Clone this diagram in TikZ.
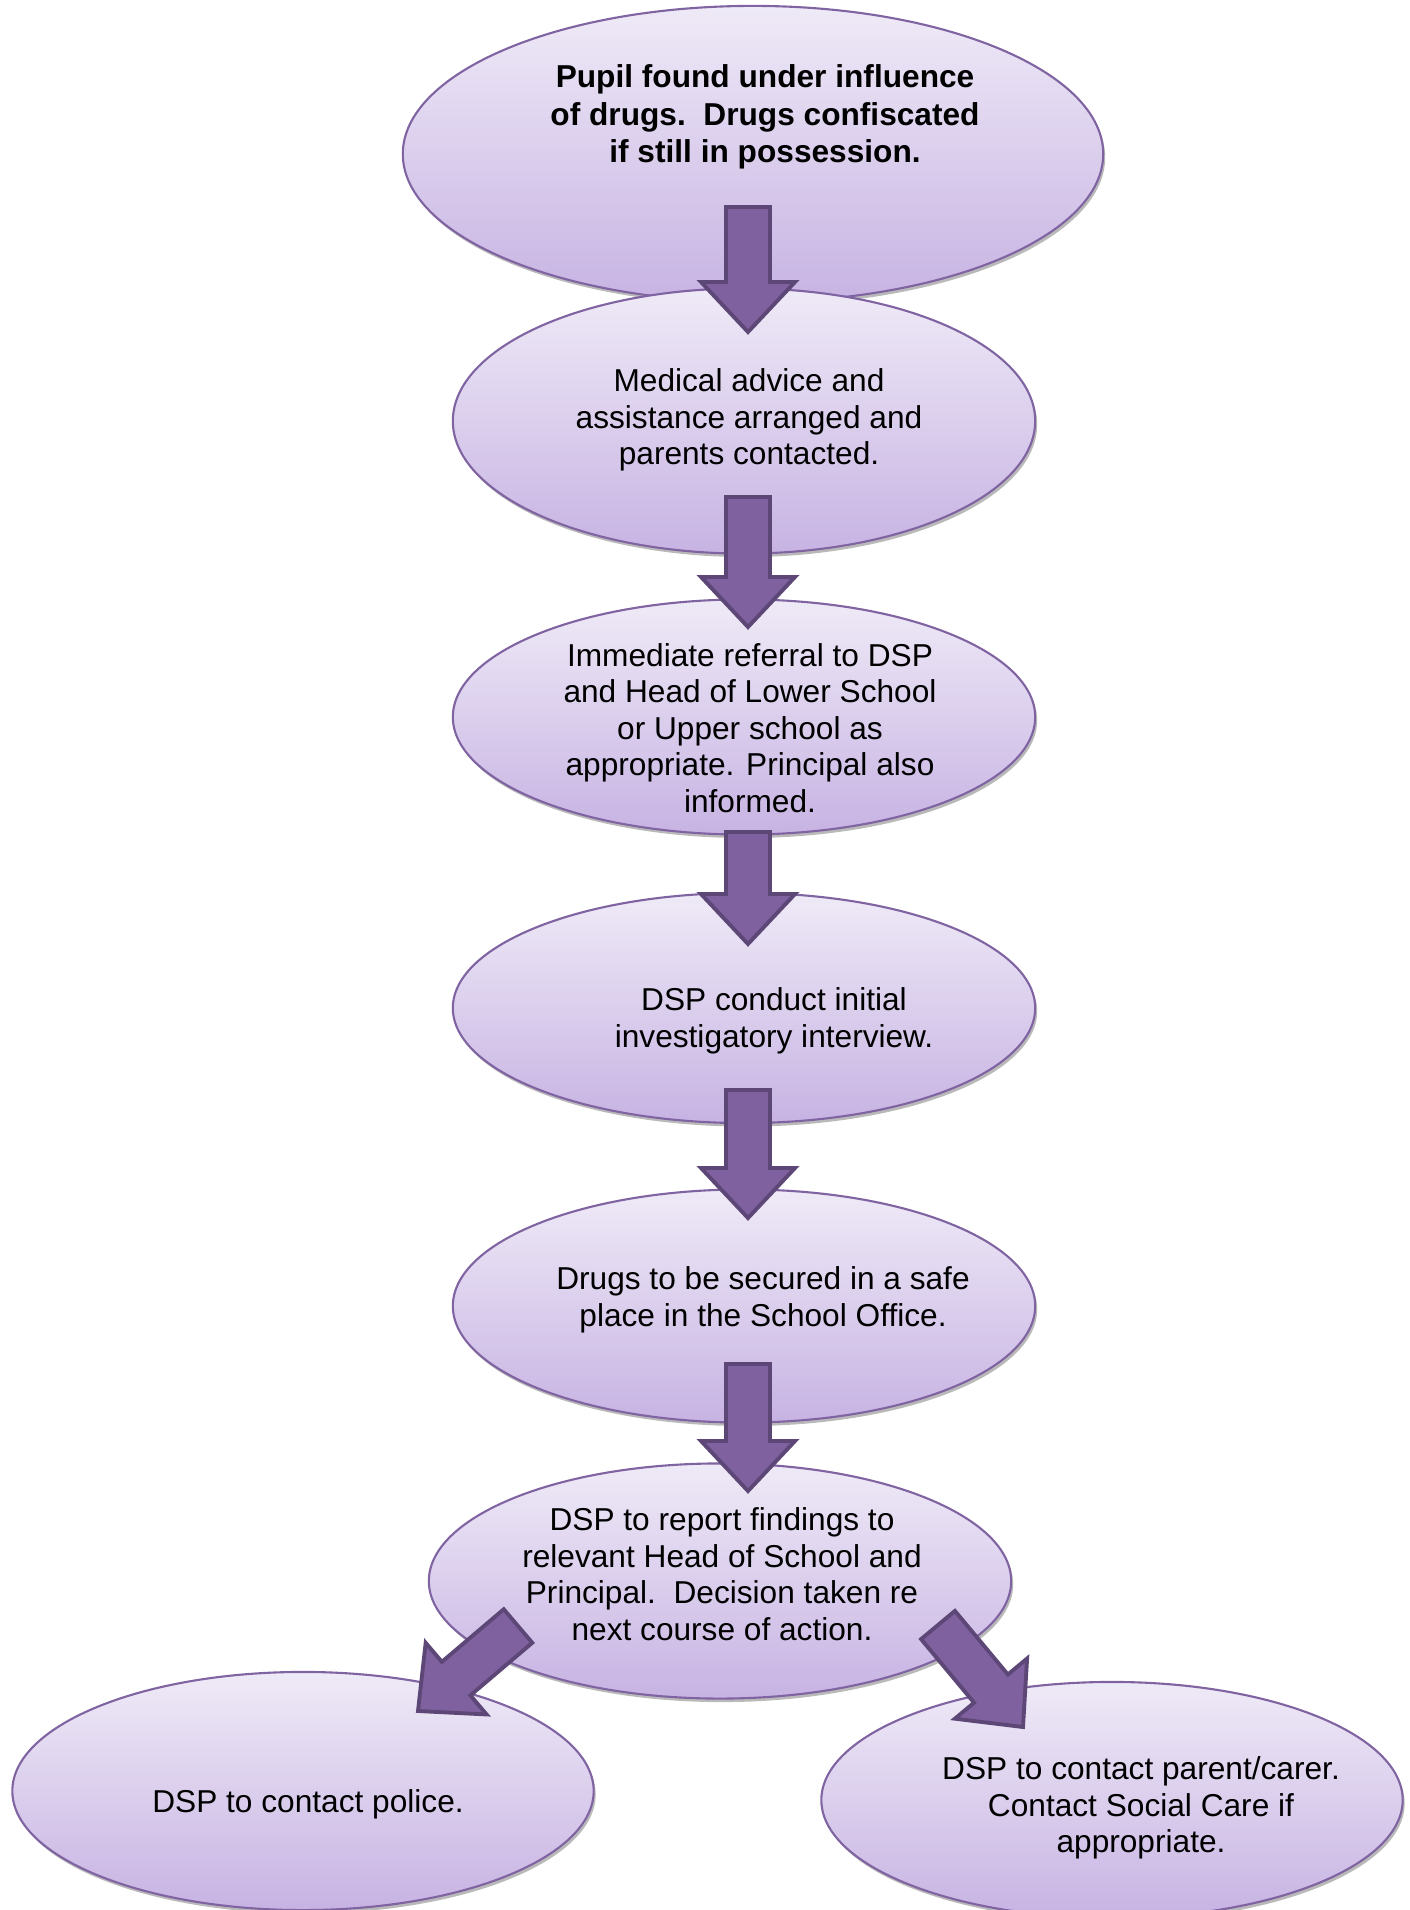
\documentclass[tikz,border=0pt]{standalone}
\usepackage{fontspec}
\setmainfont{Liberation Sans}
\usetikzlibrary{shapes.geometric,calc,shadows}
\definecolor{stageline}{HTML}{8064A2}
\definecolor{stagetop}{HTML}{EFEAF7}
\definecolor{stagebot}{HTML}{C7B3E3}
\definecolor{arrowfill}{HTML}{7F61A0}
\definecolor{arrowline}{HTML}{5D4777}
\tikzset{
  stage/.style={ellipse, draw=stageline, line width=0.6pt, inner sep=0pt,
    top color=stagetop, bottom color=stagebot,
    drop shadow={shadow xshift=0.02cm, shadow yshift=-0.035cm, fill=black!50, opacity=0.55}},
  txt/.style={align=center, inner sep=0pt, font=\fontsize{9pt}{10.4pt}\selectfont},
  fatarrow/.style={fill=arrowfill, draw=arrowline, line width=1.1pt, line join=miter}
}
% block arrow from tail #1 to tip #2
\newcommand\blockarrow[2]{%
  \path (#1) coordinate (ba-t) (#2) coordinate (ba-p);
  \path ($(ba-p)!0.5cm!(ba-t)$) coordinate (ba-h);
  \draw[fatarrow] ($(ba-t)!0.22cm!90:(ba-p)$) -- ($(ba-h)!0.22cm!90:(ba-p)$)
    -- ($(ba-h)!0.47cm!90:(ba-p)$) -- (ba-p) -- ($(ba-h)!0.47cm!-90:(ba-p)$)
    -- ($(ba-h)!0.22cm!-90:(ba-p)$) -- ($(ba-t)!0.22cm!-90:(ba-p)$) -- cycle;
}
\begin{document}
\begin{tikzpicture}[x=0.01cm, y=-0.01cm]
  \useasboundingbox (0,0) rectangle (1409,1910);
  % stages
  \node[stage, minimum width=7cm,    minimum height=2.96cm] (pupil)    at (753,154)  {};
  \node[stage, minimum width=5.82cm, minimum height=2.65cm] (medical)  at (744,421)  {};
  \node[stage, minimum width=5.82cm, minimum height=2.35cm] (referral) at (744,717)  {};
  \node[stage, minimum width=5.82cm, minimum height=2.30cm] (interview) at (744,1008) {};
  \node[stage, minimum width=5.82cm, minimum height=2.33cm] (secure)   at (744,1306) {};
  \node[stage, minimum width=5.82cm, minimum height=2.35cm] (report)   at (720,1581) {};
  \node[stage, minimum width=5.81cm, minimum height=2.38cm] (police)   at (303,1791) {};
  \node[stage, minimum width=5.81cm, minimum height=2.36cm] (parent)   at (1112,1800) {};
  % texts
  \node[txt, font=\fontsize{9pt}{10.7pt}\selectfont\bfseries] (pupil-t) at ($(pupil)+(12,-37)$)
    {Pupil found under influence\\of drugs.\ \ Drugs confiscated\\if still in possession.};
  \node[txt] (medical-t) at ($(medical)+(5,-1)$)
    {Medical advice and\\assistance arranged and\\parents contacted.};
  \node[txt] (referral-t) at ($(referral)+(6,11)$)
    {Immediate referral to DSP\\and Head of Lower School\\or Upper school as\\appropriate. Principal also\\informed.};
  \node[txt] (interview-t) at ($(interview)+(30,13)$)
    {DSP conduct initial\\investigatory interview.};
  \node[txt] (secure-t) at ($(secure)+(19,-6)$)
    {Drugs to be secured in a safe\\place in the School Office.};
  \node[txt] (report-t) at ($(report)+(2,-7)$)
    {DSP to report findings to\\relevant Head of School and\\Principal.\ \ Decision taken re\\next course of action.};
  \node[txt] (police-t) at ($(police)+(5,13)$) {DSP to contact police.};
  \node[txt] (parent-t) at ($(parent)+(29,8)$)
    {DSP to contact parent/carer.\\Contact Social Care if\\appropriate.};
  % arrows
  \coordinate (a1) at (748,207);  \coordinate (b1) at (748,332);
  \coordinate (a2) at (748,497);  \coordinate (b2) at (748,627);
  \coordinate (a3) at (748,832);  \coordinate (b3) at (748,944);
  \coordinate (a4) at (748,1090); \coordinate (b4) at (748,1218);
  \coordinate (a5) at (748,1364); \coordinate (b5) at (748,1491);
  \coordinate (a6) at (518,1626); \coordinate (b6) at (418,1711);
  \coordinate (a7) at (938,1625); \coordinate (b7) at (1023,1727);
  \foreach \i in {1,...,7} {\blockarrow{a\i}{b\i}}
\end{tikzpicture}
\end{document}
